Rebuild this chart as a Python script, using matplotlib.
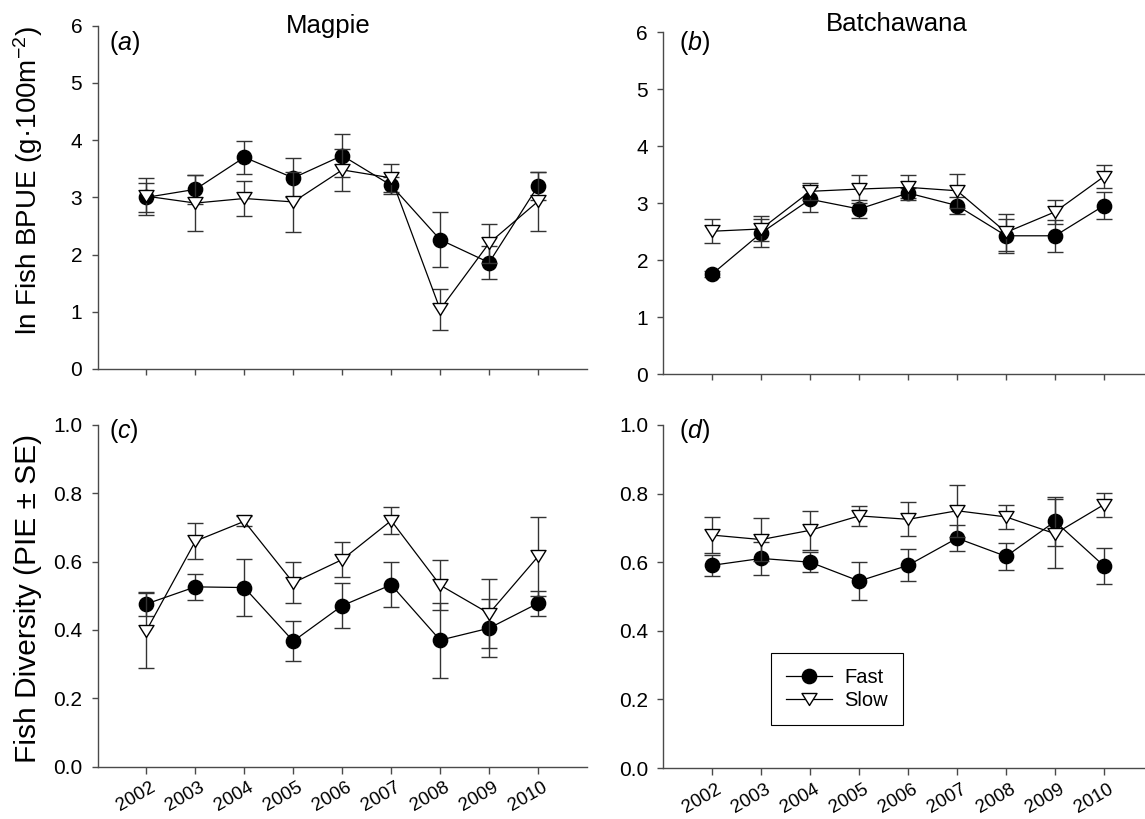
import matplotlib
matplotlib.use("Agg")
import matplotlib.pyplot as plt
from matplotlib.path import Path
from matplotlib.lines import Line2D
import matplotlib.transforms as mtrans

plt.rcParams['font.family'] = ['Liberation Sans', 'DejaVu Sans']
plt.rcParams['mathtext.fontset'] = 'custom'
plt.rcParams['mathtext.rm'] = 'Liberation Sans'
plt.rcParams['mathtext.it'] = 'Liberation Sans:italic'
plt.rcParams['mathtext.default'] = 'rm'

# ---------------- data ----------------
years = [2002, 2003, 2004, 2005, 2006, 2007, 2008, 2009, 2010]
year_labels = ["2002", "2003", "2004", "2005", "2006", "2007", "2008", "2009", "2010"]

# (a) Magpie BPUE
a_fast = [3.00, 3.14, 3.70, 3.34, 3.73, 3.21, 2.26, 1.86, 3.20]
a_fast_se = [0.25, 0.25, 0.29, 0.34, 0.37, 0.15, 0.48, 0.29, 0.25]
a_slow = [3.02, 2.90, 2.98, 2.92, 3.48, 3.34, 1.04, 2.20, 2.93]
a_slow_se = [0.32, 0.49, 0.30, 0.52, 0.37, 0.24, 0.35, 0.34, 0.52]

# (b) Batchawana BPUE
b_fast = [1.76, 2.48, 3.07, 2.90, 3.18, 2.96, 2.43, 2.43, 2.96]
b_fast_se = [0.05, 0.25, 0.22, 0.15, 0.08, 0.15, 0.30, 0.28, 0.24]
b_slow = [2.51, 2.55, 3.21, 3.25, 3.28, 3.22, 2.49, 2.85, 3.47]
b_slow_se = [0.21, 0.22, 0.15, 0.25, 0.22, 0.30, 0.33, 0.21, 0.21]

# (c) Magpie diversity
c_fast = [0.476, 0.526, 0.524, 0.367, 0.471, 0.532, 0.370, 0.405, 0.478]
c_fast_se = [0.035, 0.038, 0.084, 0.058, 0.065, 0.066, 0.110, 0.085, 0.037]
c_slow = [0.398, 0.660, 0.718, 0.538, 0.606, 0.720, 0.531, 0.448, 0.615]
c_slow_se = [0.110, 0.053, 0.015, 0.060, 0.052, 0.040, 0.074, 0.100, 0.116]

# (d) Batchawana diversity
d_fast = [0.591, 0.611, 0.600, 0.545, 0.591, 0.670, 0.617, 0.719, 0.589]
d_fast_se = [0.031, 0.047, 0.030, 0.055, 0.047, 0.037, 0.040, 0.071, 0.052]
d_slow = [0.679, 0.666, 0.693, 0.735, 0.725, 0.750, 0.732, 0.683, 0.768]
d_slow_se = [0.053, 0.062, 0.056, 0.030, 0.050, 0.076, 0.035, 0.100, 0.035]

series_names = ["Fast", "Slow"]

# ---------------- figure ----------------
W, H = 1145, 819
fig = plt.figure(figsize=(W / 100, H / 100), dpi=100)


def rect(left, right, top, bottom):
    return [left / W, 1 - bottom / H, (right - left) / W, (bottom - top) / H]


ax_a = fig.add_axes(rect(97.5, 587, 25.7, 369))
ax_b = fig.add_axes(rect(663.3, 1153, 32.3, 374.3))
ax_c = fig.add_axes(rect(97.5, 587, 425, 766.5))
ax_d = fig.add_axes(rect(663.3, 1153, 425, 768))

tri = Path([(-1, 0.8), (1, 0.8), (0, -0.8), (-1, 0.8)],
           [Path.MOVETO, Path.LINETO, Path.LINETO, Path.CLOSEPOLY])

spine_col = '#4a4a4a'
TICK_FS = 15


def draw(ax, fast, fast_se, slow, slow_se, ylim, yticks, yfmt):
    ax.errorbar(years, fast, yerr=fast_se, color='black', lw=0.9,
                marker='o', ms=10.3, mfc='black', mec='black',
                ecolor='#333333', elinewidth=1.0, capsize=5.5, capthick=1.0,
                zorder=3)
    ax.errorbar(years, slow, yerr=slow_se, color='black', lw=0.9,
                marker=tri, ms=10.8, mfc='white', mec='black', mew=1.0,
                ecolor='#333333', elinewidth=1.0, capsize=5.5, capthick=1.0,
                zorder=4)
    ax.set_xlim(2001, 2011)
    ax.set_ylim(*ylim)
    ax.set_yticks(yticks)
    ax.set_yticklabels([yfmt.format(v) for v in yticks])
    ax.set_xticks(years)
    for s in ['top', 'right']:
        ax.spines[s].set_visible(False)
    for s in ['left', 'bottom']:
        ax.spines[s].set_color(spine_col)
        ax.spines[s].set_linewidth(1.0)
        ax.spines[s].set_clip_on(False)
    ax.tick_params(axis='both', direction='out', length=4, width=1.0,
                   color=spine_col, labelsize=TICK_FS, pad=7)


draw(ax_a, a_fast, a_fast_se, a_slow, a_slow_se, (0, 6), [0, 1, 2, 3, 4, 5, 6], "{:d}")
draw(ax_b, b_fast, b_fast_se, b_slow, b_slow_se, (0, 6), [0, 1, 2, 3, 4, 5, 6], "{:d}")
draw(ax_c, c_fast, c_fast_se, c_slow, c_slow_se, (0, 1), [0.0, 0.2, 0.4, 0.6, 0.8, 1.0], "{:.1f}")
draw(ax_d, d_fast, d_fast_se, d_slow, d_slow_se, (0, 1), [0.0, 0.2, 0.4, 0.6, 0.8, 1.0], "{:.1f}")

for ax in (ax_a, ax_b):
    ax.set_xticklabels([])
for ax in (ax_c, ax_d):
    ax.tick_params(axis='x', length=5, pad=4)
    ax.set_xticklabels(year_labels, rotation=30, ha='right', fontsize=13.5)
    offset = mtrans.ScaledTranslation(12 / 100, 0, fig.dpi_scale_trans)
    for lab in ax.get_xticklabels():
        lab.set_transform(lab.get_transform() + offset)

# panel letters
for ax, letter, x, y in [(ax_a, 'a', 109, 43), (ax_b, 'b', 679, 43),
                         (ax_c, 'c', 109, 431), (ax_d, 'd', 679, 431)]:
    fig.text(x / W, 1 - y / H, r"($\it{" + letter + "}$)", fontsize=18,
             ha='left', va='center')

# titles
fig.text(328 / W, 1 - 26 / H, "Magpie", fontsize=18.5, ha='center', va='center')
fig.text(897 / W, 1 - 24 / H, "Batchawana", fontsize=18.5, ha='center', va='center')

# y labels
fig.text(28 / W, 1 - 181 / H, r"ln Fish BPUE (g·100m$^{-2}$)", fontsize=20,
         rotation=90, ha='center', va='center')
fig.text(28 / W, 1 - 598 / H, "Fish Diversity (PIE ± SE)", fontsize=21.5,
         rotation=90, ha='center', va='center')

# legend
h_fast = Line2D([], [], color='black', lw=0.9, marker='o', ms=10.3,
                mfc='black', mec='black')
h_slow = Line2D([], [], color='black', lw=0.9, marker=tri, ms=10.8,
                mfc='white', mec='black', mew=1.0)
leg = fig.legend([h_fast, h_slow], series_names, loc='upper left',
                 bbox_to_anchor=(771 / W, 1 - 653 / H), fontsize=14.5,
                 frameon=True, fancybox=False, framealpha=1,
                 edgecolor='black', handlelength=2.3, handletextpad=0.6,
                 borderpad=0.75, labelspacing=0.2, borderaxespad=0)
leg.get_frame().set_linewidth(0.8)

fig.savefig("out.png", dpi=100)
